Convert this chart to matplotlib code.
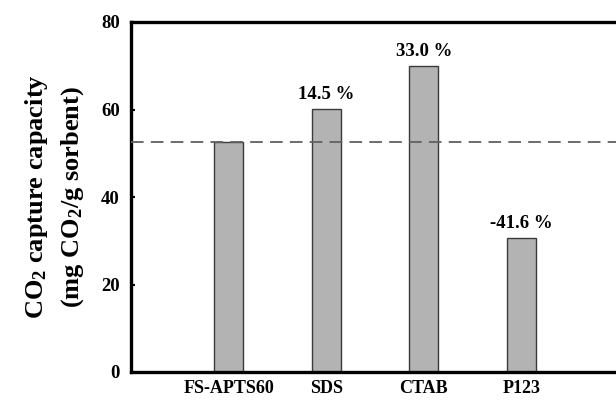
import matplotlib
matplotlib.use("Agg")
import matplotlib.pyplot as plt
import numpy as np

plt.rcParams['font.family'] = ['Liberation Serif', 'DejaVu Serif']
plt.rcParams['font.weight'] = 'bold'
plt.rcParams['mathtext.fontset'] = 'custom'
plt.rcParams['mathtext.rm'] = 'Liberation Serif:bold'
plt.rcParams['mathtext.bf'] = 'Liberation Serif:bold'
plt.rcParams['mathtext.default'] = 'rm'

# CO2 capture capacity of each sorbent (mg CO2 / g sorbent)
samples = ["FS-APTS60", "SDS", "CTAB", "P123"]
capacity = [52.6, 60.2, 70.0, 30.7]
change_labels = ["", "14.5 %", "33.0 %", "-41.6 %"]
baseline = capacity[0]

fig = plt.figure(figsize=(6.16, 4.0), dpi=100)
ax = fig.add_axes([0.2127, 0.07, 0.7922, 0.875])

x = np.arange(1, len(samples) + 1)
ax.bar(x, capacity, width=0.3, color='#b3b3b3', edgecolor='#3a3a3a', linewidth=1.0, zorder=2)
ax.axhline(baseline, color='#606060', lw=1.3, dashes=(7, 4), zorder=3)

for xi, val, lab in zip(x, capacity, change_labels):
    if lab:
        ax.annotate(lab, (xi, val), xytext=(0, 4), textcoords='offset points',
                    ha='center', va='bottom', fontsize=13.5, fontweight='bold')

ax.set_xlim(0, 5)
ax.set_ylim(0, 80)
ax.set_yticks([0, 20, 40, 60, 80])
ax.set_xticks(x)
ax.set_xticklabels(samples)
ax.tick_params(axis='x', length=0, pad=6, labelsize=13)
ax.tick_params(axis='y', direction='in', length=3, width=1.5, pad=8, labelsize=13.5)

for side in ['left', 'bottom', 'top']:
    ax.spines[side].set_linewidth(2.4)
ax.spines['right'].set_visible(False)

ax.set_ylabel("CO$_2$ capture capacity\n(mg CO$_2$/g sorbent)",
              fontsize=19, fontweight='bold', linespacing=1.45, labelpad=11)

fig.savefig("out.png", dpi=100)
